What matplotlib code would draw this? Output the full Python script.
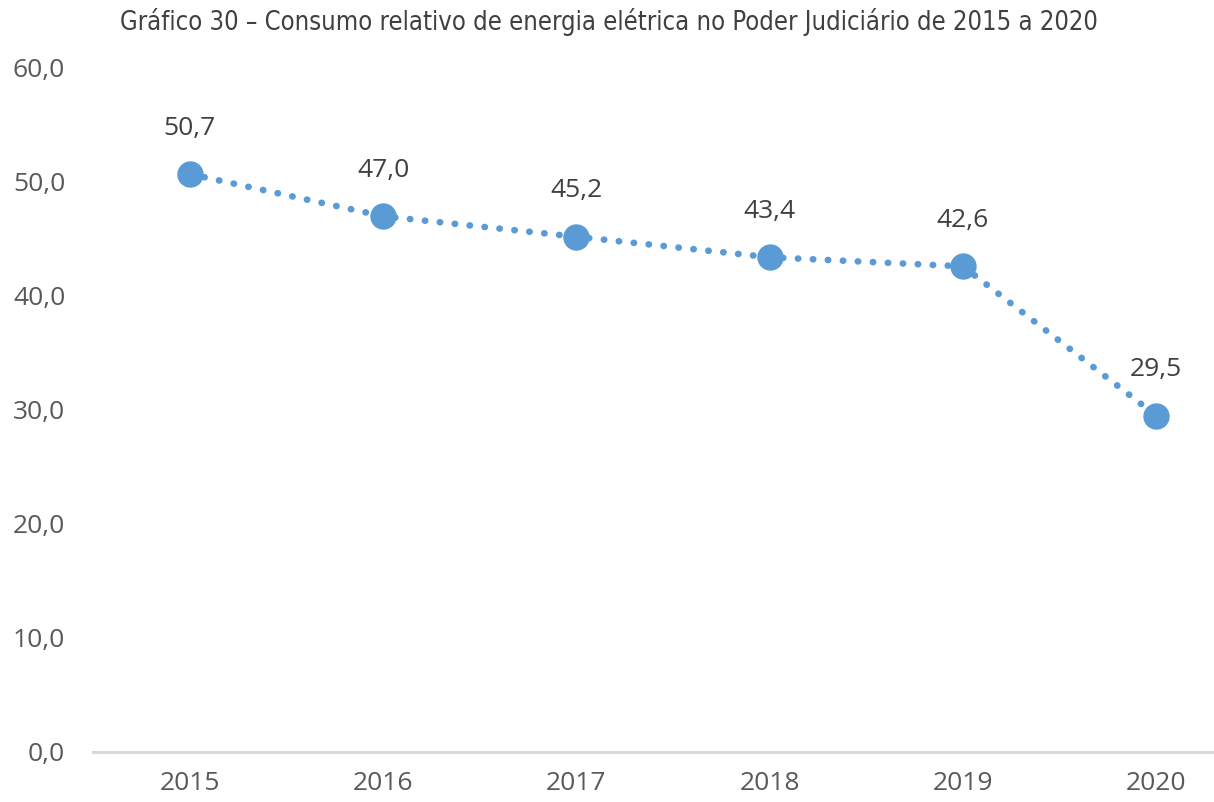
import matplotlib
matplotlib.use("Agg")
import matplotlib.pyplot as plt
from matplotlib import font_manager

years = ["2015", "2016", "2017", "2018", "2019", "2020"]
consumo = [50.7, 47.0, 45.2, 43.4, 42.6, 29.5]
y_ticks = [0, 10, 20, 30, 40, 50, 60]

# Prefer a condensed face for the title when one is installed
condensed = [f for f in font_manager.fontManager.ttflist
             if f.name == "DejaVu Sans" and f.stretch == "condensed" and f.style == "normal"]
if condensed:
    title_kw = dict(family="DejaVu Sans", fontstretch="condensed", fontsize=18.4)
else:
    title_kw = dict(family="DejaVu Sans", fontsize=15.2)
body_font = "Open Sans"

blue = "#5B9BD5"
grey_text = "#595959"

fig = plt.figure(figsize=(12.14, 8.02), dpi=100)
# The category axis runs past the right edge of the canvas
ax = fig.add_axes([93 / 1214, 50 / 802, 1160 / 1214, 684 / 802])

x = list(range(len(years)))
ax.plot(x, consumo, color=blue, linewidth=4.8, linestyle=(0, (0.05, 2.2)),
        dash_capstyle="round", solid_capstyle="round", zorder=2, clip_on=False)
ax.plot(x, consumo, linestyle="none", marker="o", markersize=18,
        color=blue, markeredgecolor=blue, zorder=3, clip_on=False)

for xi, v in zip(x, consumo):
    ax.annotate(f"{v:.1f}".replace(".", ","), (xi, v), xytext=(0, 33),
                textcoords="offset points", ha="center", va="center",
                fontsize=19, color="#404040", family=body_font)

ax.set_xlim(-0.5, len(years) - 0.5)
ax.set_ylim(0, 60)
ax.set_xticks(x)
ax.set_xticklabels(years)
ax.set_yticks(y_ticks)
ax.set_yticklabels([f"{t:.1f}".replace(".", ",") for t in y_ticks])
for lbl in ax.get_xticklabels() + ax.get_yticklabels():
    lbl.set_family(body_font)
    lbl.set_fontsize(19)
    lbl.set_color(grey_text)

ax.tick_params(axis="both", length=0)
ax.tick_params(axis="x", pad=14)
ax.tick_params(axis="y", pad=20)
for side in ["top", "right", "left"]:
    ax.spines[side].set_visible(False)
ax.spines["bottom"].set_color("#D9D9D9")
ax.spines["bottom"].set_linewidth(2.2)

fig.text(609 / 1214, 1 - 22 / 802,
         "Gráfico 30 – Consumo relativo de energia elétrica no Poder Judiciário de 2015 a 2020",
         ha="center", va="center", color="#404040", **title_kw)

fig.savefig("out.png", dpi=100, facecolor="white")
